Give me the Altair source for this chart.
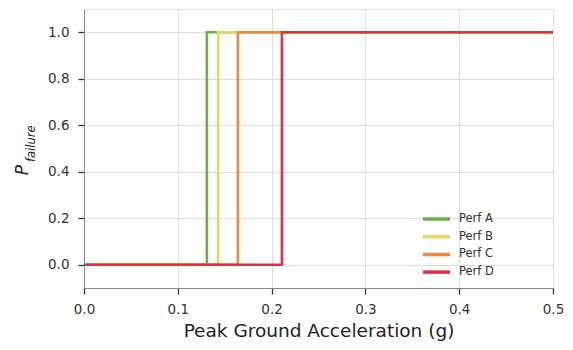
import altair as alt
import pandas as pd

series = ["Perf A", "Perf B", "Perf C", "Perf D"]
thresholds = [0.131, 0.143, 0.164, 0.211]
colors = ["#6aad4f", "#ecd65f", "#ef8a3c", "#dd3347"]
x_start = 0.0
x_end = 0.5

rows = []
for s, t in zip(series, thresholds):
    rows += [
        {"series": s, "pga": x_start, "p": 0.0, "order": 0},
        {"series": s, "pga": t, "p": 0.0, "order": 1},
        {"series": s, "pga": t, "p": 1.0, "order": 2},
        {"series": s, "pga": x_end, "p": 1.0, "order": 3},
    ]
df = pd.DataFrame(rows)

font = "DejaVu Sans"

lines = alt.Chart(df).mark_line(strokeWidth=2.6, clip=True, strokeJoin="miter").encode(
    x=alt.X("pga:Q", scale=alt.Scale(domain=[0, 0.5], nice=False, zero=False),
            axis=alt.Axis(title="Peak Ground Acceleration (g)", values=[0, 0.1, 0.2, 0.3, 0.4, 0.5],
                          format=".1f", titleFontSize=18.5, titleFontWeight="normal",
                          titleColor="#222", titlePadding=6, labelPadding=8, labelFlush=False,
                          labelFontSize=13.5, labelFont=font, labelColor="#333",
                          tickSize=6, tickWidth=1.3, tickColor="#333")),
    y=alt.Y("p:Q", scale=alt.Scale(domain=[-0.1, 1.1], nice=False, zero=False),
            axis=alt.Axis(title=None, values=[0, 0.2, 0.4, 0.6, 0.8, 1.0], format=".1f",
                          labelPadding=9, labelFontSize=13.5, labelFont=font, labelColor="#333",
                          tickSize=6, tickWidth=1.3, tickColor="#333")),
    color=alt.Color("series:N", scale=alt.Scale(domain=series, range=colors),
                    legend=alt.Legend(title=None, orient="none", legendX=337, legendY=202,
                                      symbolType="stroke", symbolStrokeWidth=3.5, symbolSize=729,
                                      clipHeight=16, rowPadding=1.7, labelOffset=7,
                                      labelFontSize=11.5, labelColor="#333",
                                      labelFont=font)),
    order=alt.Order("order:Q"),
    detail="series:N",
)

ylab_p = alt.Chart(pd.DataFrame({"t": ["P"]})).mark_text(
    font=font, fontSize=17, fontStyle="italic", angle=270, align="center", baseline="middle",
    color="#222").encode(text="t:N", x=alt.value(-61), y=alt.value(161))
ylab_sub = alt.Chart(pd.DataFrame({"t": ["failure"]})).mark_text(
    font=font, fontSize=11.5, fontStyle="italic", angle=270, align="left", baseline="middle",
    color="#222").encode(text="t:N", x=alt.value(-52), y=alt.value(153))

chart = alt.layer(lines, ylab_p, ylab_sub).properties(
    width=469, height=279,
    autosize=alt.AutoSizeParams(type="none"),
    padding={"left": 76, "top": 1, "right": 12, "bottom": 54},
).configure_axis(
    grid=True, gridColor="#ececec", gridWidth=1,
    domain=False, labelFont=font, titleFont=font,
).configure_view(stroke="#444", strokeWidth=1.5).configure(font=font)

chart.save("out.html", embed_options={"renderer": "svg", "actions": False})
